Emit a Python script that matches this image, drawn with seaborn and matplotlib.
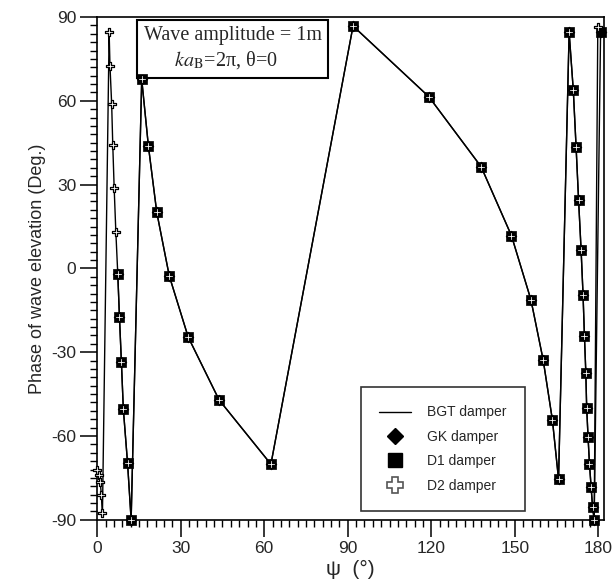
import numpy as np
import pandas as pd
import seaborn as sns
import matplotlib.pyplot as plt
from matplotlib.lines import Line2D
from matplotlib.ticker import MultipleLocator

# Heading angle psi (deg) and phase of wave elevation (deg), shared by all dampers
psi_main = [7.4, 8.0, 8.7, 9.4, 10.9, 12.2, 16.0, 18.4, 21.4, 25.9, 32.7, 43.8,
            62.4, 91.9, 119.1, 137.9, 148.8, 155.8, 160.2, 163.5, 165.7,
            169.5, 171.0, 172.0, 172.9, 173.8, 174.5, 175.0, 175.5, 175.8,
            176.3, 176.8, 177.4, 177.9, 178.5]
phase_main = [-2.0, -17.3, -33.5, -50.4, -69.5, -90.0, 67.7, 43.8, 20.1, -2.7,
              -24.6, -47.1, -70.1, 86.8, 61.5, 36.4, 11.7, -11.3, -32.9, -54.3,
              -75.5, 84.5, 63.8, 43.5, 24.4, 6.6, -9.4, -24.2, -37.4, -49.8,
              -60.4, -69.9, -78.3, -85.3, -90.0]

# End point of the BGT / GK / D1 curves
psi_end = [180.8]
phase_end = [84.5]

# D2 damper: extra points at small psi and its own end point
psi_d2_start = [0.1, 0.6, 1.1, 1.5, 1.9, 4.3, 4.6, 5.2, 5.6, 6.1, 6.7]
phase_d2_start = [-72.0, -74.0, -76.5, -81.0, -87.5, 84.5, 72.5, 59.0, 44.3, 28.9, 13.2]
psi_d2_end = [179.8]
phase_d2_end = [86.5]

xticks = [0, 30, 60, 90, 120, 150, 180]
yticks = [-90, -60, -30, 0, 30, 60, 90]

main = pd.DataFrame({"psi": psi_main + psi_end, "phase": phase_main + phase_end})
d2 = pd.DataFrame({"psi": psi_d2_start + psi_main + psi_d2_end,
                   "phase": phase_d2_start + phase_main + phase_d2_end})

sns.set_style("ticks")
plt.rcParams["font.family"] = ["Liberation Sans", "DejaVu Sans"]
plt.rcParams["axes.unicode_minus"] = False

fig = plt.figure(figsize=(6.15, 5.88), dpi=100)
ax = fig.add_axes([0.158, 0.116, 0.824, 0.855])

# BGT damper line and D2 line
sns.lineplot(data=d2, x="psi", y="phase", sort=False, estimator=None,
             color="black", lw=1.0, ax=ax, legend=False)
sns.lineplot(data=main, x="psi", y="phase", sort=False, estimator=None,
             color="black", lw=1.0, ax=ax, legend=False)

# GK damper (diamonds), D1 damper (squares), D2 damper (crosses)
sns.scatterplot(data=main, x="psi", y="phase", marker="D", s=30,
                color="black", edgecolor="black", linewidth=0.5, ax=ax,
                zorder=3, clip_on=False)
sns.scatterplot(data=main, x="psi", y="phase", marker="s", s=44,
                color="black", edgecolor="black", linewidth=0.5, ax=ax,
                zorder=4, clip_on=False)
sns.scatterplot(data=d2, x="psi", y="phase", marker="P", s=32,
                color="white", edgecolor="black", linewidth=0.9, ax=ax,
                zorder=5, clip_on=False)

ax.set_xlim(0, 182)
ax.set_ylim(-90, 90)
ax.set_xticks(xticks)
ax.set_yticks(yticks)
ax.xaxis.set_minor_locator(MultipleLocator(3))
ax.yaxis.set_minor_locator(MultipleLocator(3))
ax.tick_params(axis="both", which="major", direction="out", length=12, width=1.1,
               labelsize=12.5, color="black")
ax.tick_params(axis="both", which="minor", direction="out", length=5, width=1.0,
               color="black")
ax.tick_params(axis="x", pad=3)
ax.tick_params(axis="y", pad=3)
for sp in ax.spines.values():
    sp.set_visible(True)
    sp.set_linewidth(1.2)
    sp.set_color("black")

ax.set_xlabel("ψ  (°)", fontsize=15, labelpad=3)
ax.set_ylabel("Phase of wave elevation (Deg.)", fontsize=13, labelpad=4)

# Annotation box with the wave conditions
ax.text(0.092, 0.983, "Wave amplitude = 1m\n      $ka$$_\\mathrm{B}$=2π, θ=0",
        transform=ax.transAxes, ha="left", va="top", fontsize=14.5,
        family=["Liberation Serif", "DejaVu Serif"], linespacing=1.3,
        math_fontfamily="stix",
        bbox=dict(boxstyle="square,pad=0.32", facecolor="white",
                  edgecolor="black", linewidth=1.5))

handles = [
    Line2D([], [], color="black", lw=1.0),
    Line2D([], [], ls="none", marker="D", ms=8, color="black"),
    Line2D([], [], ls="none", marker="s", ms=10, color="black"),
    Line2D([], [], ls="none", marker="P", ms=11, markerfacecolor="white",
           markeredgecolor="#555555", markeredgewidth=1.2),
]
labels = ["BGT damper", "GK damper", "D1 damper", "D2 damper"]
leg = ax.legend(handles, labels, loc="lower left", bbox_to_anchor=(0.52, 0.018),
                fontsize=10, frameon=True, fancybox=False, edgecolor="black",
                handlelength=2.3, handletextpad=1.2, borderpad=1.3,
                labelspacing=0.75, borderaxespad=0)
leg.get_frame().set_linewidth(1.2)

fig.savefig("out.png", dpi=100)
